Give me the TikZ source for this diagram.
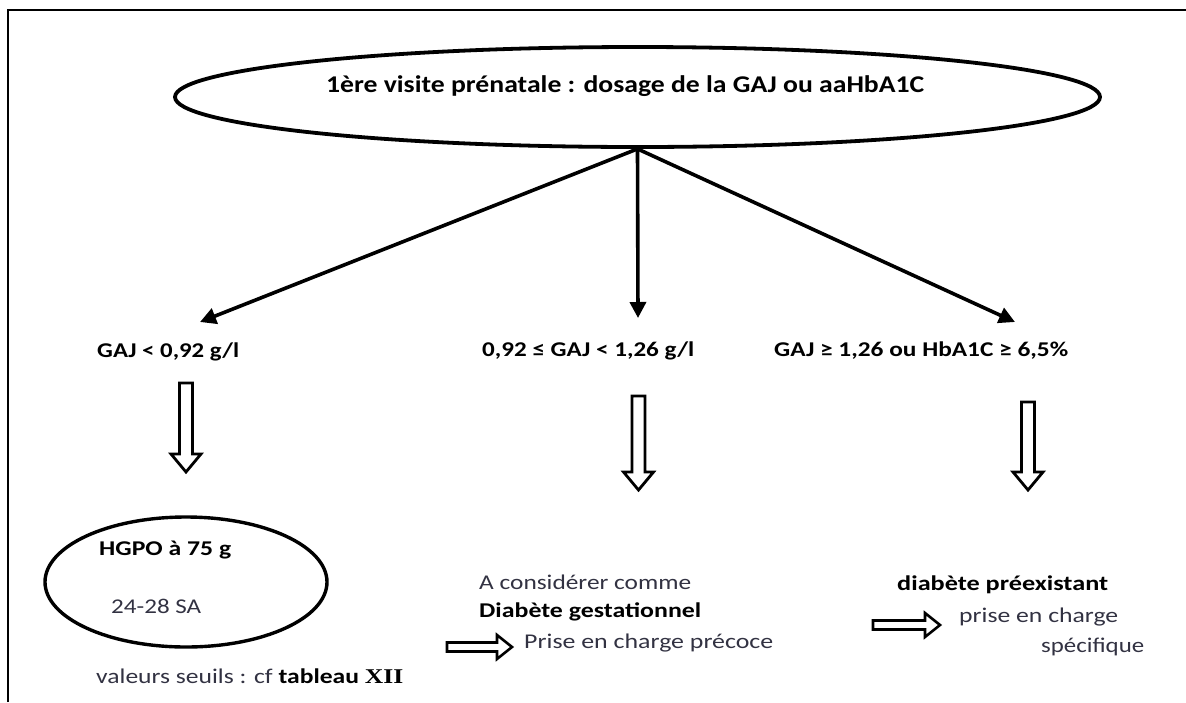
\documentclass[tikz,border=0pt]{standalone}
\usepackage{fontspec}
\setmainfont{Carlito}
\newfontfamily\serifxii{Liberation Serif}
\usetikzlibrary{arrows.meta,shapes.geometric}
\definecolor{txt}{RGB}{50,50,66}
\newcommand\fitw[2]{\resizebox{#1pt}{\height}{#2}}
\tikzset{
  lbl/.style={anchor=base west, inner sep=0pt, text=txt, font=\fontsize{21}{25}\selectfont},
  blbl/.style={lbl, text=black, font=\fontsize{21}{25}\selectfont\bfseries},
  oval/.style={draw, ellipse, line width=3.8pt, inner sep=0pt},
  flow/.style={line width=3.6pt, -{Triangle[length=16pt,width=16pt]}},
  hollow/.pic={\draw[line width=2.8pt, line join=miter]
     (0,-6.5)--(#1-18,-6.5)--(#1-18,-15)--(#1,0)--(#1-18,15)--(#1-18,6.5)--(0,6.5)--cycle;},
  hollowh/.pic={\draw[line width=2.6pt, line join=miter]
     (0,-4.5)--(#1-15,-4.5)--(#1-15,-12)--(#1,0)--(#1-15,12)--(#1-15,4.5)--(0,4.5)--cycle;}
}
\begin{document}
\begin{tikzpicture}[x=1pt,y=-1pt]
\useasboundingbox (0,0) rectangle (1186,702);
% frame
\draw[line width=1.6pt] (8,702) -- (8,10) -- (1186,10);
% top ellipse
\node[oval, minimum width=925pt, minimum height=100pt] (top) at (637.5,97) {};
\node[blbl, font=\fontsize{24}{28}\selectfont\bfseries] (title) at (326,92) {\fitw{598}{1ère visite prénatale : dosage de la GAJ ou aaHbA1C}};
% targets
\coordinate (t1) at (200,322);
\coordinate (t2) at (638,318);
\coordinate (t3) at (1015,322);
\draw[flow] (top.south) -- (t1);
\draw[flow] (top.south) -- (t2);
\draw[flow] (top.south) -- (t3);
% labels
\node[blbl] (c1) at (97,357) {\fitw{142}{GAJ < 0,92 g/l}};
\node[blbl] (c2) at (482,356) {\fitw{212}{0,92 ≤ GAJ < 1,26 g/l}};
\node[blbl] (c3) at (774,356) {\fitw{294}{GAJ ≥ 1,26 ou HbA1C ≥ 6,5\%}};
% hollow down arrows
\pic[rotate=-90] at (186,383) {hollow=89};
\pic[rotate=-90] at (638.5,396) {hollow=94};
\pic[rotate=-90] at (1028,402) {hollow=88};
% left result
\node[oval, line width=3.4pt, minimum width=282pt, minimum height=130pt] (hgpo) at (186,582) {};
\node[blbl] (h1) at (99,555) {\fitw{132}{HGPO à 75 g}};
\node[lbl] (h2) at (111,613) {\fitw{90}{24-28 SA}};
\node[lbl] (h3) at (96,683) {\fitw{307}{valeurs seuils : cf \textbf{\textcolor{black}{tableau} \serifxii\textcolor{black}{XII}}}};
% middle result
\node[lbl] (m1) at (479,589) {\fitw{212}{A considérer comme}};
\node[blbl] (m2) at (479,617) {\fitw{222}{Diabète gestationnel}};
\pic at (447,647) {hollowh=65};
\node[lbl] (m3) at (524,648) {\fitw{249}{Prise en charge précoce}};
% right result
\node[blbl] (r1) at (897,590) {\fitw{211}{diabète préexistant}};
\pic at (873,625) {hollowh=67};
\node[lbl] (r2) at (959,622) {\fitw{159}{prise en charge}};
\node[lbl] (r3) at (1041,652) {\fitw{103}{spécifique}};
\end{tikzpicture}
\end{document}
